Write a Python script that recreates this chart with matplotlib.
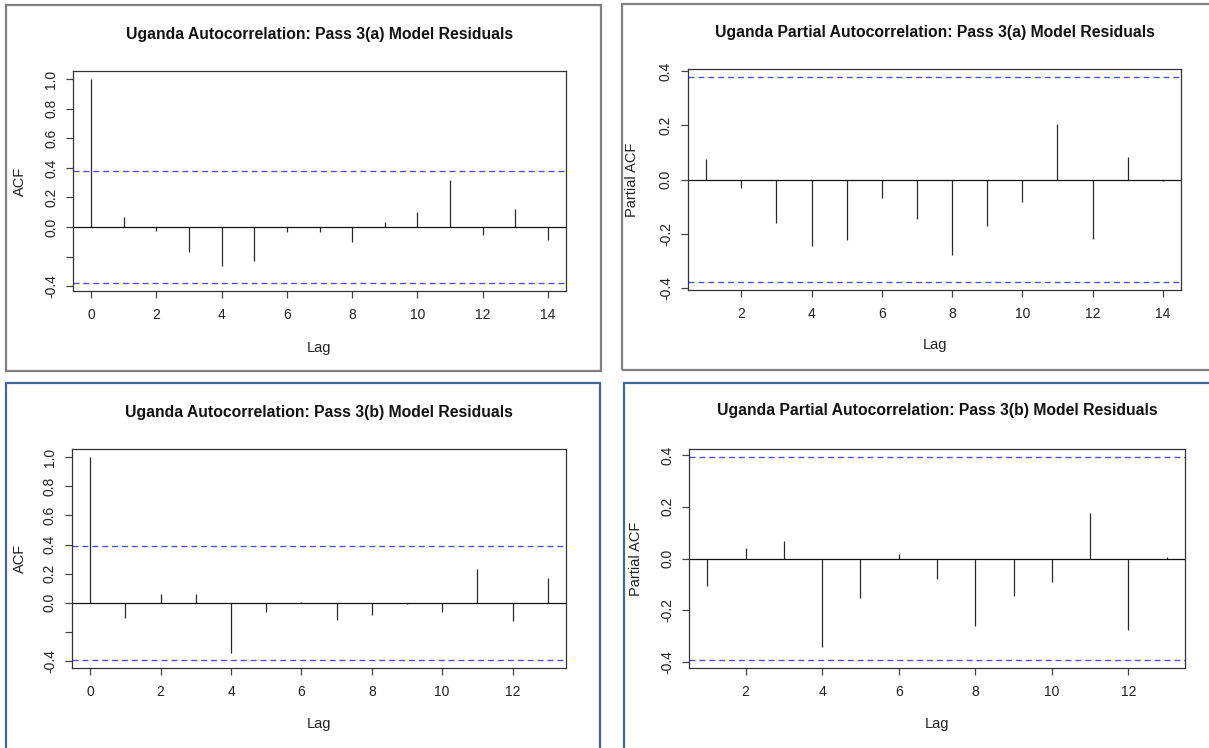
import numpy as np
import matplotlib
matplotlib.use("Agg")
import matplotlib.pyplot as plt
from matplotlib.patches import Rectangle

plt.rcParams['font.family'] = ['Liberation Sans', 'DejaVu Sans']

# ---------------- data ----------------
n_a = 27   # series length, pass 3(a)
n_b = 25   # series length, pass 3(b)

acf_a_lags = list(range(0, 15))
acf_a = [1.0, 0.068, -0.025, -0.166, -0.263, -0.227, -0.036, -0.036, -0.098,
         0.036, 0.104, 0.315, -0.054, 0.125, -0.088]

pacf_a_lags = list(range(1, 15))
pacf_a = [0.075, -0.030, -0.161, -0.246, -0.222, -0.070, -0.147, -0.277,
          -0.171, -0.082, 0.205, -0.221, 0.082, -0.007]

acf_b_lags = list(range(0, 14))
acf_b = [1.0, -0.107, 0.062, 0.062, -0.346, -0.066, 0.002, -0.116, -0.082,
         -0.011, -0.066, 0.235, -0.123, 0.173]

pacf_b_lags = list(range(1, 14))
pacf_b = [-0.106, 0.042, 0.066, -0.343, -0.153, 0.018, -0.080, -0.261,
          -0.144, -0.090, 0.176, -0.278, 0.006]

titles = ["Uganda Autocorrelation: Pass 3(a) Model Residuals",
          "Uganda Partial Autocorrelation: Pass 3(a) Model Residuals",
          "Uganda Autocorrelation: Pass 3(b) Model Residuals",
          "Uganda Partial Autocorrelation: Pass 3(b) Model Residuals"]
ylabels = ["ACF", "Partial ACF", "ACF", "Partial ACF"]
xlabel = "Lag"

acf_yticks = [-0.4, -0.2, 0.0, 0.2, 0.4, 0.6, 0.8, 1.0]
acf_yticklabels = ["-0.4", "", "0.0", "0.2", "0.4", "0.6", "0.8", "1.0"]
pacf_yticks = [-0.4, -0.2, 0.0, 0.2, 0.4]
pacf_yticklabels = ["-0.4", "-0.2", "0.0", "0.2", "0.4"]

# ---------------- figure ----------------
W, H = 1209, 748
fig = plt.figure(figsize=(W / 100, H / 100), dpi=100)
fig.patch.set_facecolor('white')


def px_rect(x0, y0, x1, y1):
    return [x0 / W, 1 - y1 / H, (x1 - x0) / W, (y1 - y0) / H]


# panel frames
frames = [((6, 5, 601, 371), '#808080'),
          ((622, 4, 1215, 370), '#808080'),
          ((6, 383, 600, 760), '#41689c'),
          ((624, 383, 1215, 760), '#41689c')]
for (x0, y0, x1, y1), col in frames:
    fig.patches.append(Rectangle((x0 / W, 1 - y1 / H), (x1 - x0) / W, (y1 - y0) / H,
                                 transform=fig.transFigure, fill=False,
                                 edgecolor=col, linewidth=1.6))

axes_px = [(73, 71, 566, 291), (688, 69, 1181, 290),
           (72, 449, 566, 668), (689, 449, 1185, 668)]

panels = [(acf_a_lags, acf_a, n_a, True),
          (pacf_a_lags, pacf_a, n_a, False),
          (acf_b_lags, acf_b, n_b, True),
          (pacf_b_lags, pacf_b, n_b, False)]

title_off = [37, 37, 37, 38]   # px above axes top
ylab_off = [53, 56, 52, 53]   # px left of axes left
xlab_off = [57, 55, 56, 56]   # px below axes bottom

for i, (lags, vals, n, is_acf) in enumerate(panels):
    ax = fig.add_axes(px_rect(*axes_px[i]))
    ci = 1.96 / np.sqrt(n)
    lags = np.array(lags)
    vals = np.array(vals)
    # R-style limits
    lo = min(vals.min(), -ci)
    hi = max(vals.max(), ci)
    span = hi - lo
    ax.set_ylim(lo - 0.04 * span, hi + 0.04 * span)
    xs = lags.max() - lags.min()
    ax.set_xlim(lags.min() - 0.04 * xs, lags.max() + 0.04 * xs)

    ax.vlines(lags, 0, vals, colors='#2a2a2a', linewidth=0.9)
    ax.axhline(0, color='#111111', linewidth=0.9)
    for c in (ci, -ci):
        ax.axhline(c, color='#4a4aff', linewidth=0.95, linestyle=(0, (4.5, 3)))

    if is_acf:
        ax.set_yticks(acf_yticks)
        ax.set_yticklabels(acf_yticklabels)
        ax.set_xticks(np.arange(0, lags.max() + 1, 2))
    else:
        ax.set_yticks(pacf_yticks)
        ax.set_yticklabels(pacf_yticklabels)
        ax.set_xticks(np.arange(2, lags.max() + 1, 2))

    ax.tick_params(direction='out', length=5.3, width=0.9, color='#444444',
                   labelsize=10, labelcolor='#222222')
    ax.tick_params(axis='x', pad=7)
    ax.tick_params(axis='y', pad=5.5)
    for lab in ax.get_yticklabels():
        lab.set_rotation(90)
        lab.set_va('center')
        lab.set_ha('right')
    for s in ax.spines.values():
        s.set_color('#333333')
        s.set_linewidth(0.9)

    ax.annotate(titles[i], xy=(0.5, 1), xycoords='axes fraction',
                xytext=(0, title_off[i] * 0.72), textcoords='offset points',
                ha='center', va='center', fontsize=11.3, fontweight='bold',
                color='#111111')
    ax.annotate(xlabel, xy=(0.5, 0), xycoords='axes fraction',
                xytext=(0, -xlab_off[i] * 0.72), textcoords='offset points',
                ha='center', va='center', fontsize=10.5, color='#222222')
    ax.annotate(ylabels[i], xy=(0, 0.5), xycoords='axes fraction',
                xytext=(-ylab_off[i] * 0.72, 0), textcoords='offset points',
                ha='center', va='center', rotation=90, fontsize=10.5,
                color='#222222')

fig.savefig('out.png', dpi=100, facecolor='white')
